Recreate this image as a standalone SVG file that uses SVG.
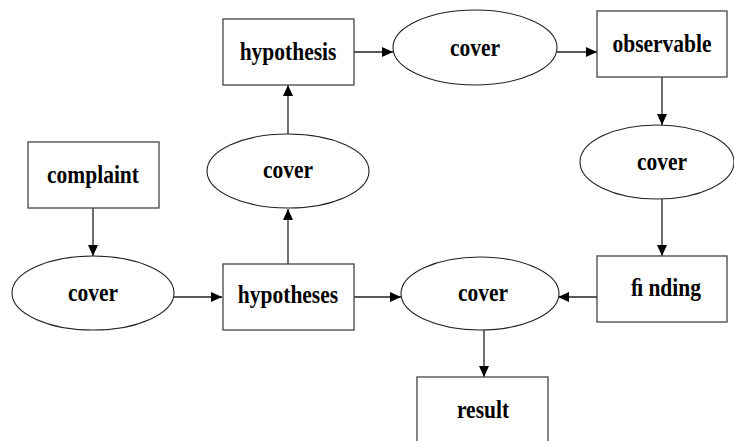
<svg xmlns="http://www.w3.org/2000/svg" width="734" height="441" viewBox="0 0 734 441">
  <defs>
    <marker id="arrow" markerWidth="11" markerHeight="10" refX="11" refY="5" orient="auto" markerUnits="userSpaceOnUse">
      <path d="M0,0 L11,5 L0,10 Z" fill="#000"/>
    </marker>
    <style>
      .box { fill: #fff; stroke: #444; stroke-width: 1.3; }
      .oval { fill: #fff; stroke: #222; stroke-width: 1.1; }
      .lbl { font-family: "Liberation Serif", "Times New Roman", serif; font-weight: bold; font-size: 25px; text-anchor: middle; fill: #000; }
      .edge { stroke: #222; stroke-width: 1.3; fill: none; marker-end: url(#arrow); }
    </style>
  </defs>
  <rect width="734" height="441" fill="#fff"/>

  <g id="connectors">
    <line class="edge" x1="93" y1="208" x2="93" y2="256"/>
    <line class="edge" x1="174" y1="297" x2="222" y2="297"/>
    <line class="edge" x1="288" y1="264" x2="288" y2="209"/>
    <line class="edge" x1="288" y1="134" x2="288" y2="85"/>
    <line class="edge" x1="354" y1="52" x2="393" y2="52"/>
    <line class="edge" x1="557" y1="52" x2="597" y2="52"/>
    <line class="edge" x1="662" y1="77" x2="662" y2="125"/>
    <line class="edge" x1="662" y1="199" x2="662" y2="256"/>
    <line class="edge" x1="354" y1="297" x2="401" y2="297"/>
    <line class="edge" x1="597" y1="297" x2="558" y2="297"/>
    <line class="edge" x1="484" y1="330" x2="484" y2="377"/>
  </g>

  <!-- labels are set in a tall bold serif, narrowed horizontally -->
  <g id="complaint">
    <rect class="box" x="28" y="142" width="131" height="66"/>
    <text class="lbl" transform="translate(93,183) scale(0.86,1)">complaint</text>
  </g>
  <g id="cover-complaint">
    <ellipse class="oval" cx="93" cy="293" rx="81" ry="37"/>
    <text class="lbl" transform="translate(93,301) scale(0.86,1)">cover</text>
  </g>
  <g id="hypotheses">
    <rect class="box" x="223" y="264" width="131" height="66"/>
    <text class="lbl" transform="translate(288,303) scale(0.86,1)">hypotheses</text>
  </g>
  <g id="cover-hypotheses">
    <ellipse class="oval" cx="288" cy="171" rx="81" ry="37"/>
    <text class="lbl" transform="translate(288,178) scale(0.86,1)">cover</text>
  </g>
  <g id="hypothesis">
    <rect class="box" x="223" y="19" width="131" height="66"/>
    <text class="lbl" transform="translate(288,60) scale(0.86,1)">hypothesis</text>
  </g>
  <g id="cover-hypothesis">
    <ellipse class="oval" cx="475" cy="47.5" rx="82" ry="37.5"/>
    <text class="lbl" transform="translate(475,56) scale(0.86,1)">cover</text>
  </g>
  <g id="observable">
    <rect class="box" x="597" y="11" width="130" height="66"/>
    <text class="lbl" transform="translate(662,52) scale(0.86,1)">observable</text>
  </g>
  <g id="cover-observable">
    <ellipse class="oval" cx="657" cy="162" rx="77" ry="37"/>
    <text class="lbl" transform="translate(662,170) scale(0.86,1)">cover</text>
  </g>
  <g id="finding">
    <rect class="box" x="597" y="256" width="130" height="66"/>
    <text class="lbl" transform="translate(666,296) scale(0.86,1)">ﬁ nding</text>
  </g>
  <g id="cover-finding">
    <ellipse class="oval" cx="480" cy="293.5" rx="79" ry="36.5"/>
    <text class="lbl" transform="translate(483,301) scale(0.86,1)">cover</text>
  </g>
  <g id="result">
    <rect class="box" x="417" y="377" width="131" height="66"/>
    <text class="lbl" transform="translate(483,418) scale(0.86,1)">result</text>
  </g>
</svg>
